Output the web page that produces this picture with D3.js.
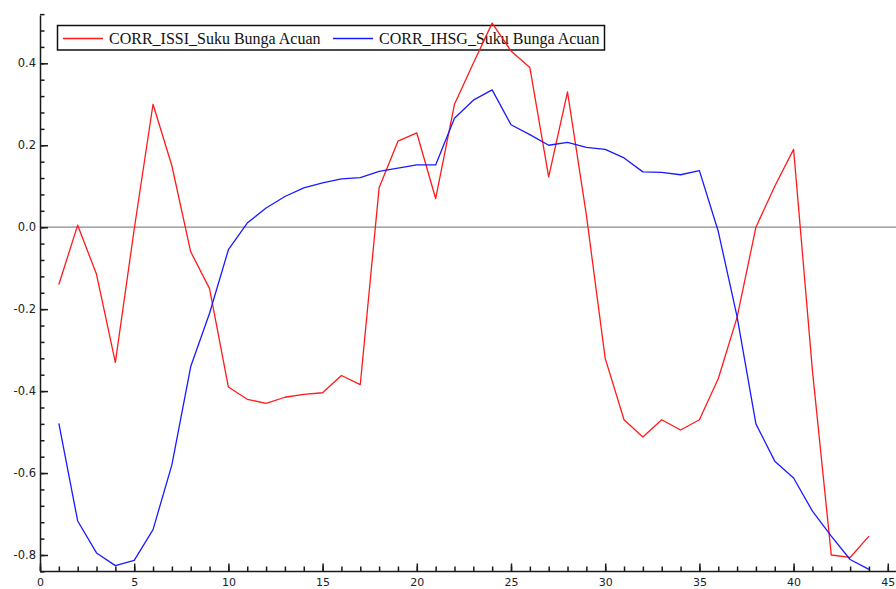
<!DOCTYPE html>
<html>
<head>
<meta charset="utf-8">
<script src="https://cdn.jsdelivr.net/npm/d3@7"></script>
<style>
  html, body { margin: 0; padding: 0; background: #fff; }
  svg { display: block; }
</style>
</head>
<body>
<svg id="chart" width="896" height="589"></svg>
<script>
// Lag index (1..44)
const lags = d3.range(1, 45);

// Rolling correlation of ISSI with the policy rate
const corrISSI = [
  -0.14, 0.005, -0.115, -0.33, -0.005, 0.30, 0.15, -0.06, -0.15, -0.39,
  -0.42, -0.43, -0.415, -0.408, -0.404, -0.362, -0.384, 0.096, 0.21, 0.23,
  0.07, 0.30, 0.40, 0.498, 0.43, 0.39, 0.123, 0.33, 0.03, -0.32,
  -0.47, -0.512, -0.47, -0.495, -0.47, -0.37, -0.22, 0.0, 0.10, 0.19,
  -0.35, -0.80, -0.806, -0.754
];

// Rolling correlation of IHSG with the policy rate
const corrIHSG = [
  -0.479, -0.717, -0.795, -0.826, -0.813, -0.738, -0.58, -0.34, -0.21, -0.055,
  0.01, 0.047, 0.075, 0.096, 0.108, 0.118, 0.121, 0.136, 0.144, 0.152,
  0.152, 0.266, 0.31, 0.335, 0.25, 0.226, 0.20, 0.207, 0.195, 0.19,
  0.169, 0.135, 0.134, 0.128, 0.138, -0.01, -0.218, -0.48, -0.571, -0.612,
  -0.693, -0.754, -0.811, -0.835
];

const seriesNames = ["CORR_ISSI_Suku Bunga Acuan", "CORR_IHSG_Suku Bunga Acuan"];
const seriesColors = ["#ff1a1a", "#1a1aff"];

const xMajorTicks = d3.range(0, 46, 5);
const xMinorTicks = d3.range(0, 46, 1);
const yMajorTicks = [-0.8, -0.6, -0.4, -0.2, 0.0, 0.2, 0.4];
const yMinorTicks = d3.range(-0.84, 0.53, 0.04).map(v => +v.toFixed(2));

const svg = d3.select("#chart");

// Plot frame
const plotLeft = 40, plotBottom = 571, plotTop = 15, plotRight = 896;

const x = d3.scaleLinear().domain([0, 45]).range([plotLeft, plotLeft + 18.84 * 45]);
x.domain([0, x.invert(plotRight)]).range([plotLeft, plotRight]);

const y = d3.scaleLinear().domain([-0.8, 0.4]).range([555, 63.3]);
y.domain([y.invert(plotBottom), y.invert(plotTop)]).range([plotBottom, plotTop]);

const axisColor = "#1a1a1a";
const tickFont = "'DejaVu Sans', Verdana, sans-serif";

// Zero reference line
svg.append("line")
  .attr("x1", plotLeft).attr("x2", plotRight)
  .attr("y1", y(0)).attr("y2", y(0))
  .attr("stroke", "#8a8a8a").attr("stroke-width", 1.2);

// Y axis: minor ticks, then major ticks with labels
const yMinor = svg.append("g").attr("transform", `translate(${plotLeft},0)`)
  .call(d3.axisRight(y).tickValues(yMinorTicks).tickSize(4.5).tickFormat(""));
yMinor.select(".domain").remove();

const yAxis = svg.append("g").attr("transform", `translate(${plotLeft},0)`)
  .call(d3.axisRight(y).tickValues(yMajorTicks).tickSize(8).tickSizeOuter(0)
    .tickFormat(d => d.toFixed(1)));
yAxis.selectAll("text")
  .attr("x", -4).attr("text-anchor", "end")
  .style("font-family", tickFont).style("font-size", "11.5px").attr("fill", "#222");

// X axis: minor ticks, then major ticks with labels
const xMinor = svg.append("g").attr("transform", `translate(0,${plotBottom})`)
  .call(d3.axisTop(x).tickValues(xMinorTicks).tickSize(4.5).tickFormat(""));
xMinor.select(".domain").remove();

const xAxis = svg.append("g").attr("transform", `translate(0,${plotBottom})`)
  .call(d3.axisTop(x).tickValues(xMajorTicks).tickSize(7.5).tickSizeOuter(0)
    .tickFormat(d3.format("d")));
xAxis.selectAll("text")
  .attr("y", 15).attr("dy", 0)
  .style("font-family", tickFont).style("font-size", "11px").attr("fill", "#222");

svg.selectAll(".domain, .tick line").attr("stroke", axisColor).attr("stroke-width", 1.5);

// Legend (drawn beneath the series lines)
const legend = svg.append("g");
legend.append("rect")
  .attr("x", 57.5).attr("y", 25.5).attr("width", 547).attr("height", 24.5)
  .attr("fill", "#fff").attr("stroke", "#111").attr("stroke-width", 1.5);
const legendItems = [
  { x0: 63, x1: 103, tx: 109 },
  { x0: 333, x1: 373, tx: 379 }
];
legendItems.forEach((it, i) => {
  legend.append("line")
    .attr("x1", it.x0).attr("x2", it.x1).attr("y1", 38.5).attr("y2", 38.5)
    .attr("stroke", seriesColors[i]).attr("stroke-width", 1.3);
  legend.append("text")
    .attr("x", it.tx).attr("y", 43.5)
    .style("font-family", "'Liberation Serif', 'Times New Roman', serif")
    .style("font-size", "16px").attr("fill", "#111")
    .text(seriesNames[i]);
});

// Series lines
const line = d3.line().x((d, i) => x(lags[i])).y(d => y(d));
[corrISSI, corrIHSG].forEach((vals, i) => {
  svg.append("path")
    .datum(vals)
    .attr("d", line)
    .attr("fill", "none")
    .attr("stroke", seriesColors[i])
    .attr("stroke-width", 1.3)
    .attr("stroke-linejoin", "round");
});
</script>
</body>
</html>
